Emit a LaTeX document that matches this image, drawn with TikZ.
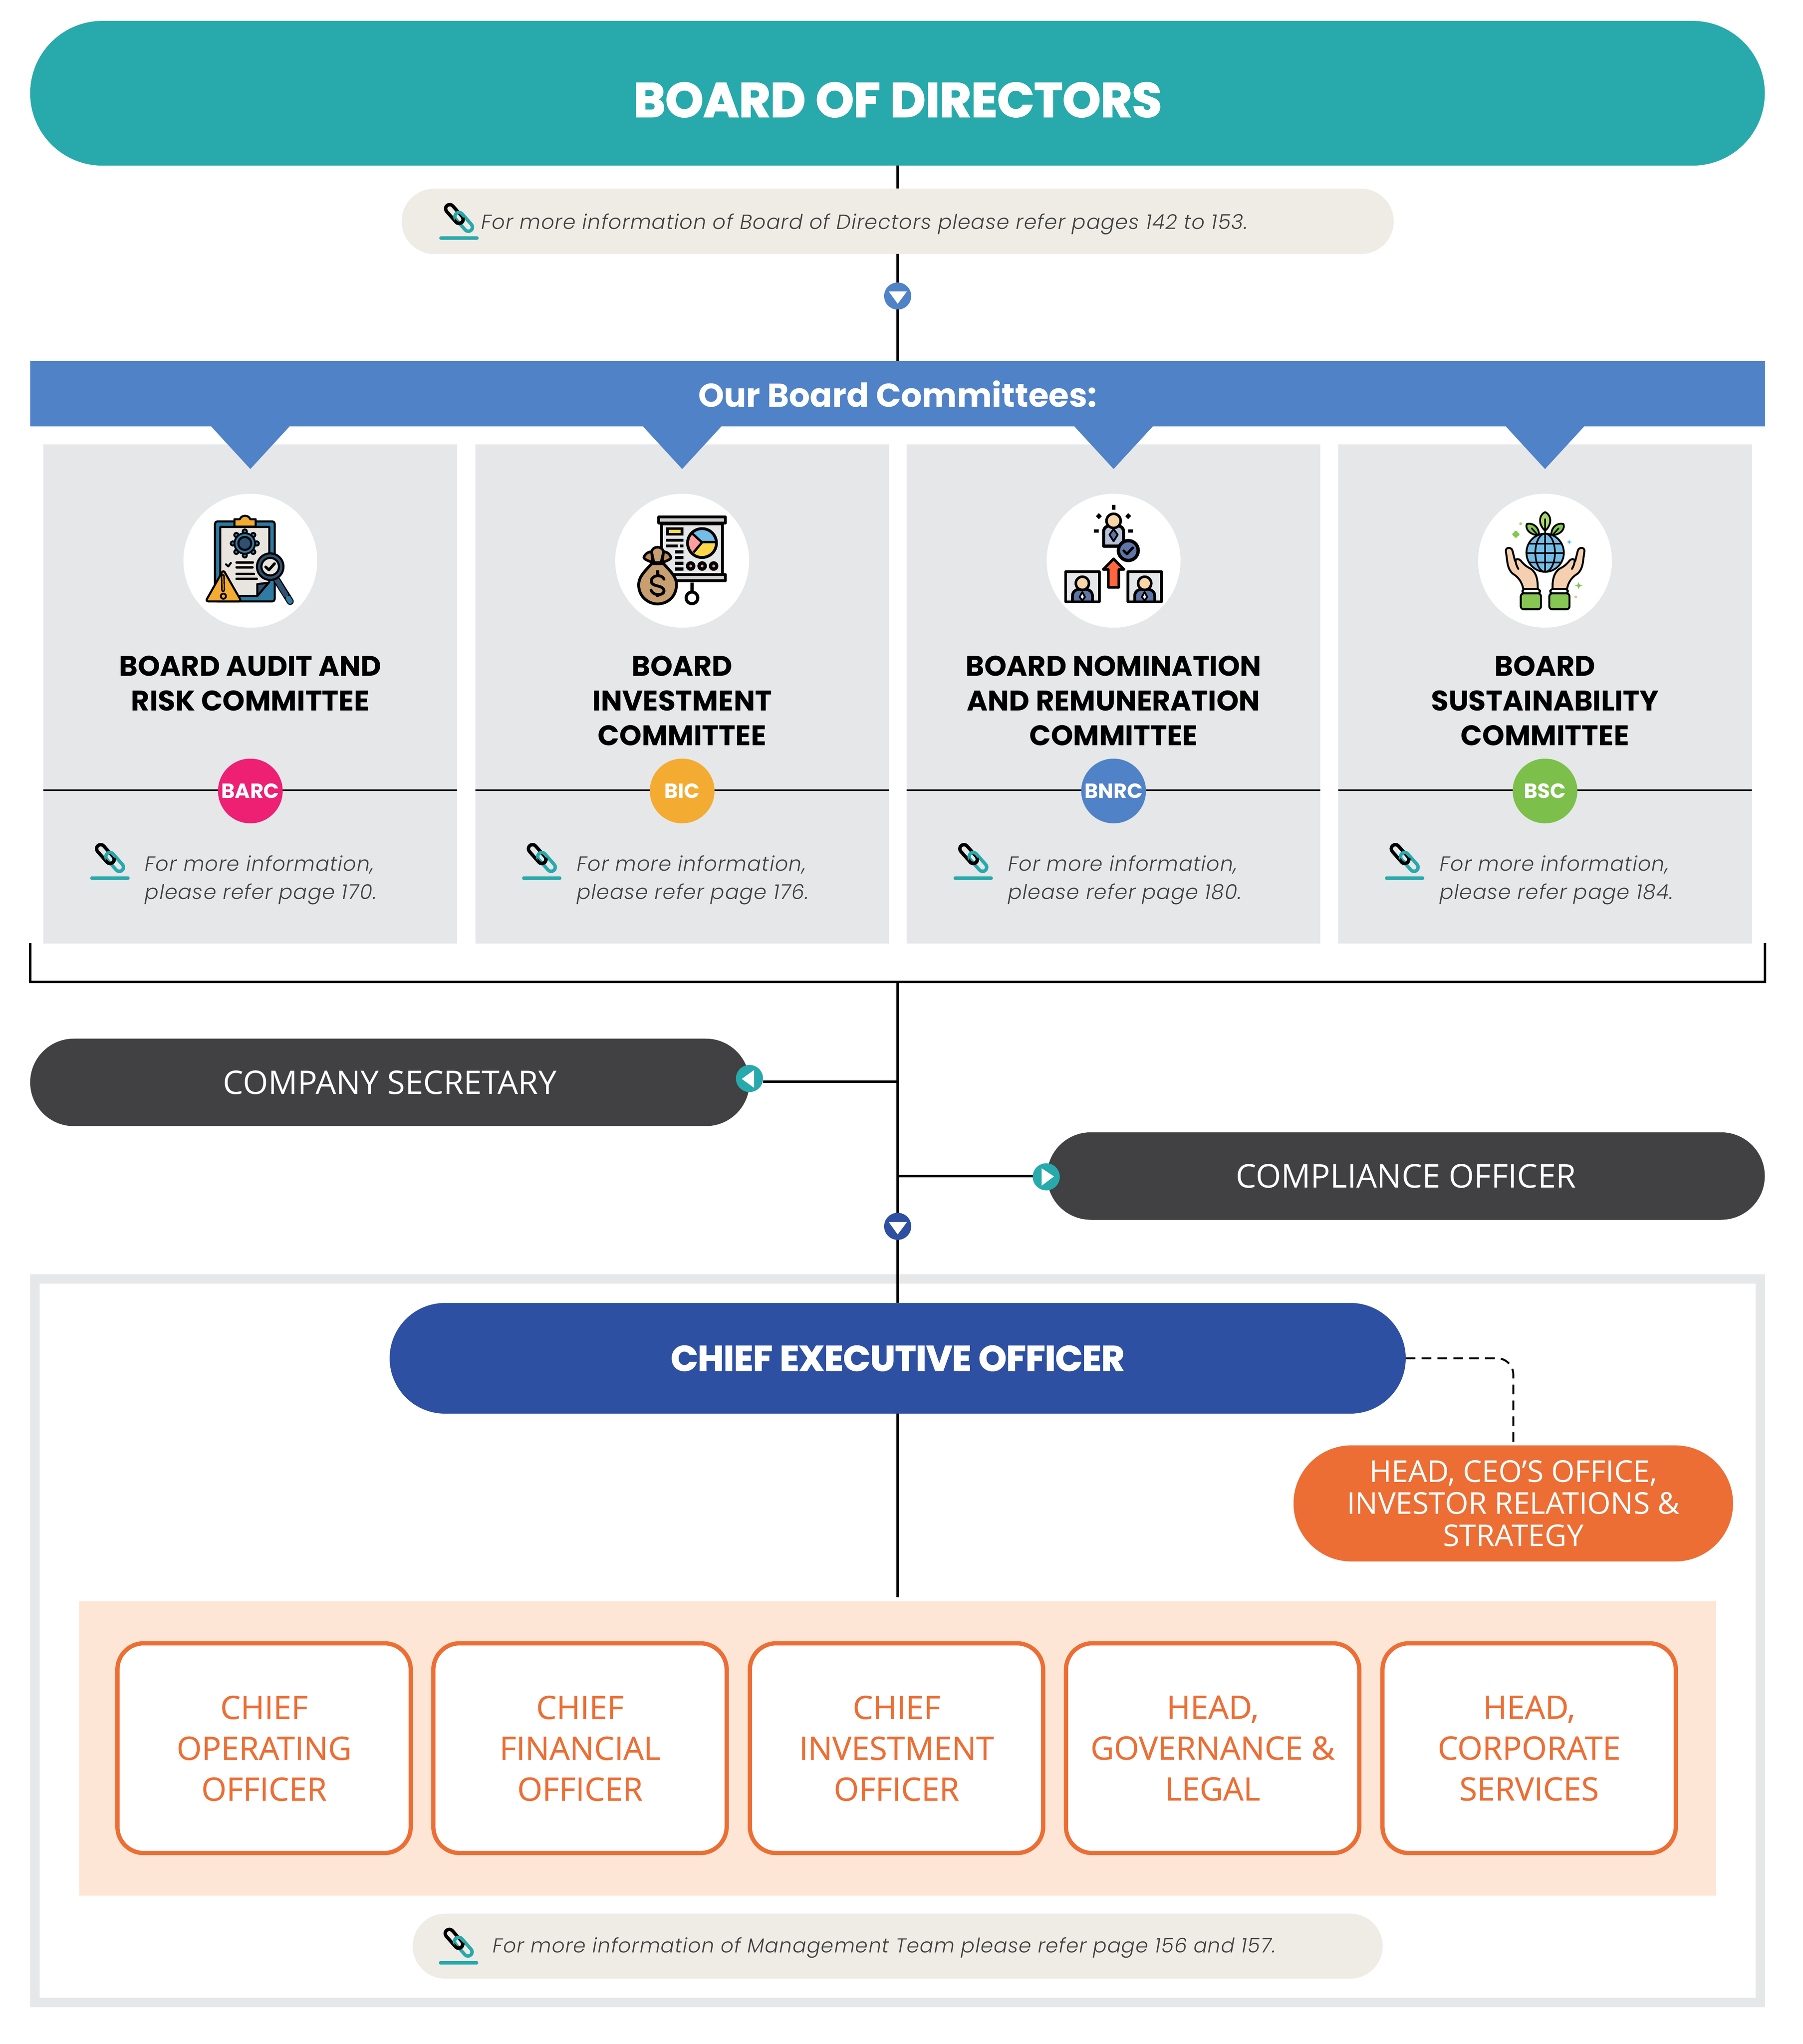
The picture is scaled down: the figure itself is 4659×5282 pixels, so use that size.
\documentclass[tikz,border=0pt]{standalone}
\usepackage{fontspec}
\setmainfont{Open Sans}
\newfontfamily\popf[BoldFeatures={FakeBold=2.4}]{Poppins}
\newfontfamily\popb{Poppins}
\newfontfamily\medf[FakeBold=0.5]{Open Sans}
\newfontfamily\itf[ItalicFont={Poppins Light Italic},ItalicFeatures={LetterSpace=3.1}]{Poppins}
\definecolor{tealc}{HTML}{28A9AB}
\definecolor{bluec}{HTML}{5082C8}
\definecolor{panelc}{HTML}{E5E7E9}
\definecolor{notec}{HTML}{EFECE6}
\definecolor{darkc}{HTML}{414042}
\definecolor{navyc}{HTML}{2E50A2}
\definecolor{orangec}{HTML}{EC6E35}
\definecolor{peachc}{HTML}{FDE6D5}
\definecolor{textc}{HTML}{404040}
\definecolor{pinkc}{HTML}{ED2074}
\definecolor{amberc}{HTML}{F3AB31}
\definecolor{greenc}{HTML}{7CC04B}
\definecolor{clipc}{HTML}{2F7BA3}
\definecolor{papc}{HTML}{E8E5DE}
\definecolor{slatec}{HTML}{2F5070}
\definecolor{tanc}{HTML}{C79F70}
\definecolor{tandc}{HTML}{BE8C52}
\definecolor{suitc}{HTML}{5E75A7}
\definecolor{skinc}{HTML}{F6D7A7}
\definecolor{handc}{HTML}{F5D0B0}
\definecolor{leafc}{HTML}{86C653}
\definecolor{leaflc}{HTML}{A9D570}
\definecolor{globec}{HTML}{74BDE8}
\tikzset{
  box/.style n args={2}{shape=rectangle,inner sep=0pt,outer sep=0pt,minimum width={#1*0.25pt},minimum height={#2*0.25pt}},
  pillbox/.style n args={3}{box={#1}{#2},fill=#3,rounded corners={#2*0.125pt-0.01pt}},
  arrowdot/.style={shape=circle,inner sep=0pt,outer sep=0pt,minimum size=17.5pt,fill=#1},
  link/.style={line width=1.6pt,black},
  thin rule/.style={line width=0.9pt,black},
  icon/.style={x=0.083333pt,y=-0.083333pt,line join=round,line cap=round},
  ik/.style={draw=black,line width=#1*0.083333pt},
  linkbar/.style={line width=2.2pt,rounded corners=2.7pt,shift={#1},rotate=-48.6},
  linkicon/.pic={
    \begin{scope}[x=0.083333pt,y=-0.083333pt]
      \fill[tealc,rounded corners=1pt] (-152,-13) rectangle (153,14);
      \draw[black,linkbar={(-35,-186)}] (-87,-32) rectangle (87,32);
      \draw[tealc,linkbar={(37,-125)}] (-87,-32) rectangle (87,32);
      \begin{scope}
        \clip (-32,-156) rectangle (53,-96);
        \draw[black,linkbar={(-35,-186)}] (-87,-32) rectangle (87,32);
      \end{scope}
    \end{scope}
  },
}
\newcommand{\fourstar}[4]{\fill[#4] ({#1},{#2-#3}) .. controls ({#1+.2*#3},{#2-.2*#3}) .. ({#1+#3},{#2}) .. controls ({#1+.2*#3},{#2+.2*#3}) .. ({#1},{#2+#3}) .. controls ({#1-.2*#3},{#2+.2*#3}) .. ({#1-#3},{#2}) .. controls ({#1-.2*#3},{#2-.2*#3}) .. cycle;}
\newcommand{\framedperson}{%
  \begin{scope}
    \draw[ik=22,fill=panelc] (282,683) rectangle (543,915);
    \clip (293,694) rectangle (532,904);
    \draw[ik=22,fill=suitc] (335,925) -- (335,870) .. controls (335,830) and (370,815) .. (412,815) .. controls (455,815) and (490,830) .. (490,870) -- (490,925) -- cycle;
    \draw[ik=20,fill=skinc] (412,772) circle[radius=51];
    \draw[ik=14,fill=white] (412,840) -- (432,878) -- (412,905) -- (390,878) -- cycle;
  \end{scope}
}
\newcommand{\handshape}{%
  \draw[ik=15,fill=handc] (500,815) .. controls (490,760) and (460,725) .. (430,705) .. controls (395,685) and (380,640) .. (376,600) -- (365,520) .. controls (365,490) and (410,490) .. (417,520) -- (437,600) .. controls (445,575) and (470,585) .. (480,595) .. controls (510,635) and (540,650) .. (560,660) .. controls (600,690) and (615,740) .. (612,815) -- cycle;
  \draw[ik=15] (441,595) .. controls (442,620) and (450,640) .. (462,660);
  \draw[ik=15,fill=white,rounded corners=2pt] (494,815) rectangle (630,852);
  \draw[ik=15,fill=leafc,rounded corners=2pt] (481,850) rectangle (638,974);
}
\begin{document}
\begin{tikzpicture}[x=0.25pt,y=-0.25pt]
\useasboundingbox (0,0) rectangle (4659,5282);
\fill[white] (0,0) rectangle (4659,5282);

% management frame
\draw[panelc,line width=6pt] (90,3305) rectangle (4549,5175);

% top
\node[pillbox={4483}{374}{tealc}] (board) at (2319.5,241) {};
\node[inner sep=0pt,text=white,font=\popf\bfseries\fontsize{31.2}{36}\selectfont] (boardt) at (2320,258) {BOARD OF DIRECTORS};
\node[pillbox={2564}{169}{notec}] (note1) at (2320,572) {};
\node[anchor=west,inner sep=0pt,text=textc,font=\itf\itshape\fontsize{13.2}{16}\selectfont] (note1t) at (1243,579) {For more information of Board of Directors please refer pages 142 to 153.};
\pic at (1186,615) {linkicon};
\node[arrowdot=bluec] (dn1) at (2320,765) {};
\fill[white] (2297,753) -- (2344,753) -- (2320,785) -- cycle;
\node[box={4483}{169},fill=bluec,text=white,font=\popb\bfseries\fontsize{21.3}{26}\selectfont] (banner) at (2319.5,1017.5) {Our Board Committees:};
\draw[link] (board.south -| dn1) -- (note1.north);
\draw[link] (note1.south) -- (dn1.north);
\draw[link] (dn1.south) -- (banner.north -| dn1);

% committees
\foreach \i/\cx/\ttl/\bdg/\bcol/\pg in {
 1/647/{BOARD AUDIT AND\\RISK COMMITTEE}/BARC/pinkc/170,
 2/1763/{BOARD\\INVESTMENT\\COMMITTEE}/BIC/amberc/176,
 3/2878/{BOARD NOMINATION\\AND REMUNERATION\\COMMITTEE}/BNRC/bluec/180,
 4/3993/{BOARD\\SUSTAINABILITY\\COMMITTEE}/BSC/greenc/184}{
  \node[box={1069}{1290},fill=panelc] (p\i) at (\cx,1793) {};
  \fill[bluec] (\cx-103,1100) -- (\cx+103,1100) -- (\cx,1212) -- cycle;
  \node[shape=circle,inner sep=0pt,minimum size=86.5pt,fill=white] (c\i) at (\cx,1449) {};
  \node[anchor=north,inner sep=0pt,align=center,font=\popb\bfseries\fontsize{18.3}{22.4}\selectfont] (t\i) at (\cx,1694) {\ttl};
  \coordinate (la\i) at (\cx-534.5,2042);
  \coordinate (lb\i) at (\cx+534.5,2042);
  \draw[thin rule] (la\i) -- (lb\i);
  \node[shape=circle,inner sep=0pt,minimum size=41.8pt,fill=\bcol,text=white,font=\popb\bfseries\fontsize{13.3}{16}\selectfont] (b\i) at (\cx,2044) {\bdg};
  \pic at (\cx-363,2269) {linkicon};
  \node[anchor=north west,inner sep=0pt,align=left,text=textc,font=\itf\itshape\fontsize{13.2}{18.25}\selectfont] (n\i) at (\cx-273,2210) {For more information,\\please refer page \pg.};
}

% icon 1
\begin{scope}[shift={(420,1250)},icon]
  \draw[ik=16,fill=clipc,rounded corners=1.5pt] (407,292) rectangle (870,912);
  \draw[ik=16,fill=papc] (448,335) -- (828,335) -- (828,762) -- (735,870) -- (448,870) -- cycle;
  \draw[ik=16,fill=slatec] (735,870) -- (735,778) -- (822,768) -- cycle;
  \draw[ik=16,fill=amberc] (558,332) -- (558,275) -- (600,275) .. controls (610,240) and (670,240) .. (680,275) -- (722,275) -- (722,332) -- cycle;
  \foreach \a in {0,45,...,315}{\draw[ik=14,fill=clipc] (638,463)+(\a:93) circle[radius=17];}
  \draw[ik=14,fill=clipc] (638,463) circle[radius=80];
  \draw[ik=16,fill=slatec] (638,463) circle[radius=50];
  \foreach \ya/\xb in {610/700,648/697,700/708,737/730}{\draw[black,line width=1.7pt] (575,\ya) -- (\xb,\ya);}
  \draw[black,line width=1.3pt] (492,625) -- (510,641) -- (530,614);
  \draw[ik=16,fill=amberc,rounded corners=1.8pt] (472,668) -- (612,912) -- (334,912) -- cycle;
  \draw[black,line width=2.5pt] (468,715) -- (470,825);
  \draw[amberc,line width=.6pt] (468,715) -- (470,825);
  \draw[ik=14,fill=amberc] (472,872) circle[radius=20];
  \draw[black,line width=4.6pt] (885,745) -- (990,912);
  \draw[slatec,line width=3.2pt] (885,745) -- (955,860);
  \draw[clipc,line width=3.2pt] (975,888) -- (990,912);
  \draw[ik=16,fill=slatec] (835,643) circle[radius=103];
  \draw[ik=16,fill=papc] (835,643) circle[radius=68];
  \draw[black,line width=1.8pt] (800,645) -- (825,668) -- (868,620);
\end{scope}

% icon 2
\begin{scope}[shift={(1540,1250)},icon,line cap=butt]
  \draw[ik=22,fill=panelc] (510,310) rectangle (983,705);
  \draw[ik=22,fill=gray!35] (488,258) rectangle (1005,305);
  \draw[ik=22,fill=gray!35] (610,705) -- (1005,705) -- (1005,752) -- (610,752);
  \fill[black] (543,337) rectangle (680,403);
  \fill[yellow!60!orange!70] (567,357) rectangle (658,383);
  \foreach \xa/\ya/\xb/\yb in {543/427/680/450,543/472/635/495,655/472/680/495,612/515/680/540,612/560/680/585,612/605/680/630,612/650/680/675}{\fill[black] (\xa,\ya) rectangle (\xb,\yb);}
  \fill[globec] (823,460) -- +(225:112) arc[start angle=225,end angle=360,radius=112] -- cycle;
  \fill[yellow!60!orange!70] (823,460) -- +(0:112) arc[start angle=0,end angle=133,radius=112] -- cycle;
  \fill[pink!60!red!70] (823,460) -- +(133:112) arc[start angle=133,end angle=225,radius=112] -- cycle;
  \draw[ik=22] (823,460) circle[radius=112];
  \draw[ik=18] (750,388) -- (823,455) -- (757,533);
  \draw[ik=18] (823,452) -- (935,452);
  \foreach \cxd in {735,824,913}{\draw[ik=26,fill=pink!60!red!70] (\cxd,638) circle[radius=24];}
  \draw[ik=24] (745,765) -- (745,835);
  \draw[ik=24,fill=white] (745,885) circle[radius=45];
  \draw[ik=22,fill=tanc] (432,620) .. controls (380,680) and (330,720) .. (332,790) .. controls (335,880) and (410,932) .. (478,932) .. controls (550,932) and (625,880) .. (625,780) .. controls (625,720) and (570,670) .. (525,620) -- cycle;
  \draw[ik=20,fill=tandc] (440,610) .. controls (410,600) and (370,585) .. (372,570) .. controls (385,535) and (420,525) .. (432,528) -- cycle;
  \draw[ik=20,fill=tandc] (516,610) .. controls (546,600) and (586,585) .. (582,570) .. controls (570,535) and (536,525) .. (524,528) -- cycle;
  \draw[ik=20,fill=tanc] (450,612) -- (432,528) .. controls (440,480) and (515,480) .. (525,528) -- (505,612) -- cycle;
  \draw[ik=22,line cap=round] (528,740) .. controls (515,700) and (430,705) .. (430,755) .. controls (430,805) and (528,780) .. (528,832) .. controls (528,870) and (440,870) .. (428,825);
  \draw[ik=26] (478,672) -- (478,705);
  \draw[ik=26] (478,848) -- (478,876);
\end{scope}

% icon 3
\begin{scope}[shift={(2660,1250)},icon]
  \fill[black] (640,163) rectangle (668,203);
  \fill[black] (502,355) rectangle (540,380);
  \fill[black] (768,355) rectangle (806,380);
  \fill[black] (540,228) -- (563,252) -- (540,275) -- (517,252) -- cycle;
  \fill[black] (767,228) -- (790,250) -- (767,275) -- (745,252) -- cycle;
  \draw[ik=24,fill=suitc!45!white] (577,484) -- (577,370) .. controls (577,335) and (610,322) .. (654,322) .. controls (700,322) and (731,335) .. (731,370) -- (731,484) -- cycle;
  \draw[ik=20,fill=skinc] (654,288) circle[radius=55];
  \draw[ik=14,fill=suitc] (654,352) -- (686,395) -- (654,446) -- (622,395) -- cycle;
  \draw[ik=26,fill=suitc] (768,518) circle[radius=77];
  \draw[black,line width=1.7pt] (733,520) -- (758,545) -- (802,497);
  \draw[ik=20,fill=red!60!orange!75] (654,582) -- (735,665) -- (695,665) -- (695,803) -- (613,803) -- (613,665) -- (573,665) -- cycle;
  \framedperson
  \begin{scope}[shift={(483,0)}]\framedperson\end{scope}
\end{scope}

% icon 4
\begin{scope}[shift={(3770,1250)},icon]
  \draw[ik=14,fill=leaflc] (670,365) .. controls (610,310) and (625,240) .. (670,220) .. controls (715,240) and (730,310) .. (670,365) -- cycle;
  \draw[ik=14,fill=leafc] (612,400) .. controls (540,390) and (515,345) .. (528,312) .. controls (580,300) and (625,340) .. (622,400) -- cycle;
  \draw[ik=14,fill=leafc] (728,400) .. controls (800,390) and (825,345) .. (812,312) .. controls (760,300) and (715,340) .. (718,400) -- cycle;
  \draw[ik=12] (565,345) -- (610,395);
  \draw[ik=12] (775,345) -- (730,395);
  \draw[ik=12] (670,275) -- (670,395);
  \draw[ik=14,fill=globec] (670,535) ellipse[x radius=145,y radius=148];
  \draw[ik=13] (670,387) -- (670,683);
  \draw[ik=13] (670,535) ellipse[x radius=76,y radius=148];
  \draw[ik=13] (525,538) -- (815,538);
  \draw[ik=13] (545,465) -- (795,465);
  \draw[ik=13] (545,612) -- (795,612);
  \handshape
  \begin{scope}[shift={(1340,0)},xscale=-1]\handshape\end{scope}
  \fill[leaflc] (480,310) circle[radius=11];
  \foreach \dx/\dy in {-14/0,14/0,0/-14,0/14}{\fill[leafc] (443+\dx,392+\dy) circle[radius=14];}
  \fourstar{857}{452}{22}{globec}
  \fourstar{930}{790}{30}{leafc}
  \fill[handc!80!orange] (907,878) circle[radius=11];
\end{scope}

% bracket and trunk
\coordinate (bl) at (78,2437);
\coordinate (br) at (4561,2437);
\coordinate (jt) at (2320,2537);
\coordinate (jl) at (2320,2795);
\coordinate (jr) at (2320,3039);
\node[pillbox={1859}{226}{darkc},text=white,font=\fontsize{21}{25}\selectfont] (cs) at (1007.5,2797) {COMPANY SECRETARY};
\node[pillbox={1855}{226}{darkc},text=white,font=\fontsize{21.1}{25}\selectfont] (co) at (3633.5,3039) {COMPLIANCE OFFICER};
\node[arrowdot=tealc] (ca) at (1937,2787) {};
\fill[white] (1917,2788) -- (1949,2765) -- (1949,2811) -- cycle;
\node[arrowdot=tealc] (cb) at (2704,3041) {};
\fill[white] (2724,3040) -- (2692,3019) -- (2692,3064) -- cycle;
\node[arrowdot=navyc] (dn2) at (2320,3169) {};
\fill[white] (2297,3158) -- (2344,3158) -- (2320,3190) -- cycle;
\node[pillbox={2626}{286}{navyc},text=white,font=\popf\bfseries\fontsize{22.8}{27}\selectfont] (ceo) at (2320,3510) {CHIEF EXECUTIVE OFFICER};
\node[pillbox={1136}{300}{orangec},text=white,align=center,font=\fontsize{19.4}{20.75}\selectfont] (hd) at (3911,3885) {HEAD, CEO’S OFFICE,\\INVESTOR RELATIONS \&\\STRATEGY};
\draw[link] (bl) |- (jt) -| (br);
\draw[link] (jt) -- (dn2.north);
\draw[link] (dn2.south) -- (ceo.north);
\draw[link] (jl) -- (ca.east |- jl);
\draw[link] (jr) -- (cb.west |- jr);
\draw[black,line width=1.25pt,dash pattern=on 6.25pt off 4pt,rounded corners=10.5pt] (ceo.east) -| (hd.north);

% management
\node[box={4230}{761},fill=peachc] (mg) at (2320,4518) {};
\coordinate (ceoend) at (2320,4127);
\draw[link] (ceo.south) -- (ceoend);
\foreach \i/\cx/\ttl in {
 1/682.5/{CHIEF\\OPERATING\\OFFICER},
 2/1499/{CHIEF\\FINANCIAL\\OFFICER},
 3/2317/{CHIEF\\INVESTMENT\\OFFICER},
 4/3134/{HEAD,\\GOVERNANCE \&\\LEGAL},
 5/3952/{HEAD,\\CORPORATE\\SERVICES}}{
  \node[shape=rectangle,inner sep=0pt,outer sep=0pt,minimum width=189.5pt,minimum height=135.5pt,draw=orangec,line width=2.75pt,fill=white,rounded corners=17pt] (o\i) at (\cx,4517.5) {};
  \node[anchor=north,inner sep=0pt,align=center,text=orangec,font=\medf\fontsize{20.8}{26.4}\selectfont] (ot\i) at (\cx,4381) {\ttl};
}
\node[pillbox={2507}{168}{notec}] (note2) at (2320,5029) {};
\node[anchor=west,inner sep=0pt,text=textc,font=\itf\itshape\fontsize{13}{16}\selectfont] (note2t) at (1273,5033) {For more information of Management Team please refer page 156 and 157.};
\pic at (1185,5072) {linkicon};
\end{tikzpicture}
\end{document}
